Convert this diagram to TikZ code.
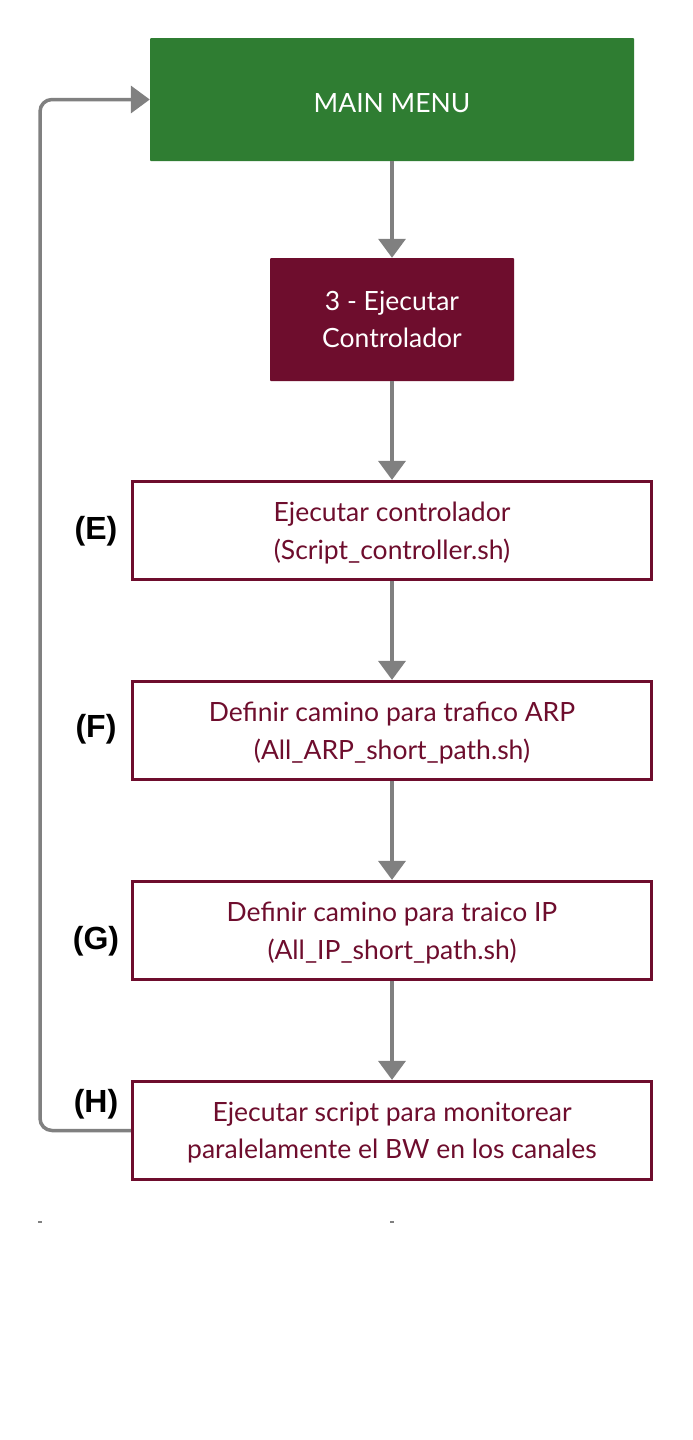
\documentclass[tikz,border=0pt]{standalone}
\usepackage{fontspec}
\setmainfont{Lato}
\newfontfamily\tagfont{Liberation Sans}
\usepackage{xcolor}
\usetikzlibrary{arrows.meta}

\definecolor{menugreen}{RGB}{47,125,50}
\definecolor{wine}{RGB}{110,13,45}
\definecolor{flowgray}{RGB}{128,128,128}

\tikzset{
    box/.style={rectangle, align=center, text depth=0pt, font=\fontsize{26.5}{37.5}\selectfont},
    filledbox/.style={box, fill=#1, text=white, rounded corners=1pt},
    stepbox/.style={box, draw=wine, line width=3.2pt, text=wine, minimum width=519pt, minimum height=98pt},
    flow/.style={draw=flowgray, line width=3.5pt, -{Triangle[width=27pt,length=19pt]}},
    tag/.style={font=\tagfont\bfseries\fontsize{32}{32}\selectfont}
}

\begin{document}
\begin{tikzpicture}[x=1pt, y=-1pt]
        \useasboundingbox[fill=white] (0,0) rectangle (693,1440);

        \node[filledbox=menugreen, text height=26pt, minimum width=484pt, minimum height=123pt] (main) at (392, 99.5) {MAIN MENU};
        \node[filledbox=wine, text depth=-4pt, minimum width=244pt, minimum height=123pt] (ctrl) at (392, 319.5) {3 - Ejecutar\\Controlador};

        \node[stepbox] (e) at (392, 530.5) {Ejecutar controlador\\(Script\_controller.sh)};
        \node[stepbox] (f) at (392, 730.5) {Definir camino para trafico ARP\\(All\_ARP\_short\_path.sh)};
        \node[stepbox] (g) at (392, 930.5) {Definir camino para traico IP\\(All\_IP\_short\_path.sh)};
        \node[stepbox] (h) at (392, 1130.5) {Ejecutar script para monitorear\\paralelamente el BW en los canales};

        \node[tag] (te) at (96, 531) {(E)};
        \node[tag] (tf) at (96, 729) {(F)};
        \node[tag] (tg) at (96, 941) {(G)};
        \node[tag] (th) at (96, 1104) {(H)};

        % main chain
        \draw[flow] (main) -- (ctrl);
        \draw[flow] (ctrl) -- (e);
        \draw[flow] (e) -- (f);
        \draw[flow] (f) -- (g);
        \draw[flow] (g) -- (h);

        % back to the menu
        \coordinate (lowturn) at (40, 1130.5);
        \coordinate (highturn) at (40, 99.5);
        \draw[flow, rounded corners=12pt] (h.west) -- (lowturn) -- (highturn) -- (main.west);

        % stray marks under the chart
        \draw[flowgray, line width=1.5pt] (38,1222) -- (42,1222);
        \draw[flowgray, line width=1.5pt] (390,1222) -- (394,1222);
    \end{tikzpicture}
\end{document}
